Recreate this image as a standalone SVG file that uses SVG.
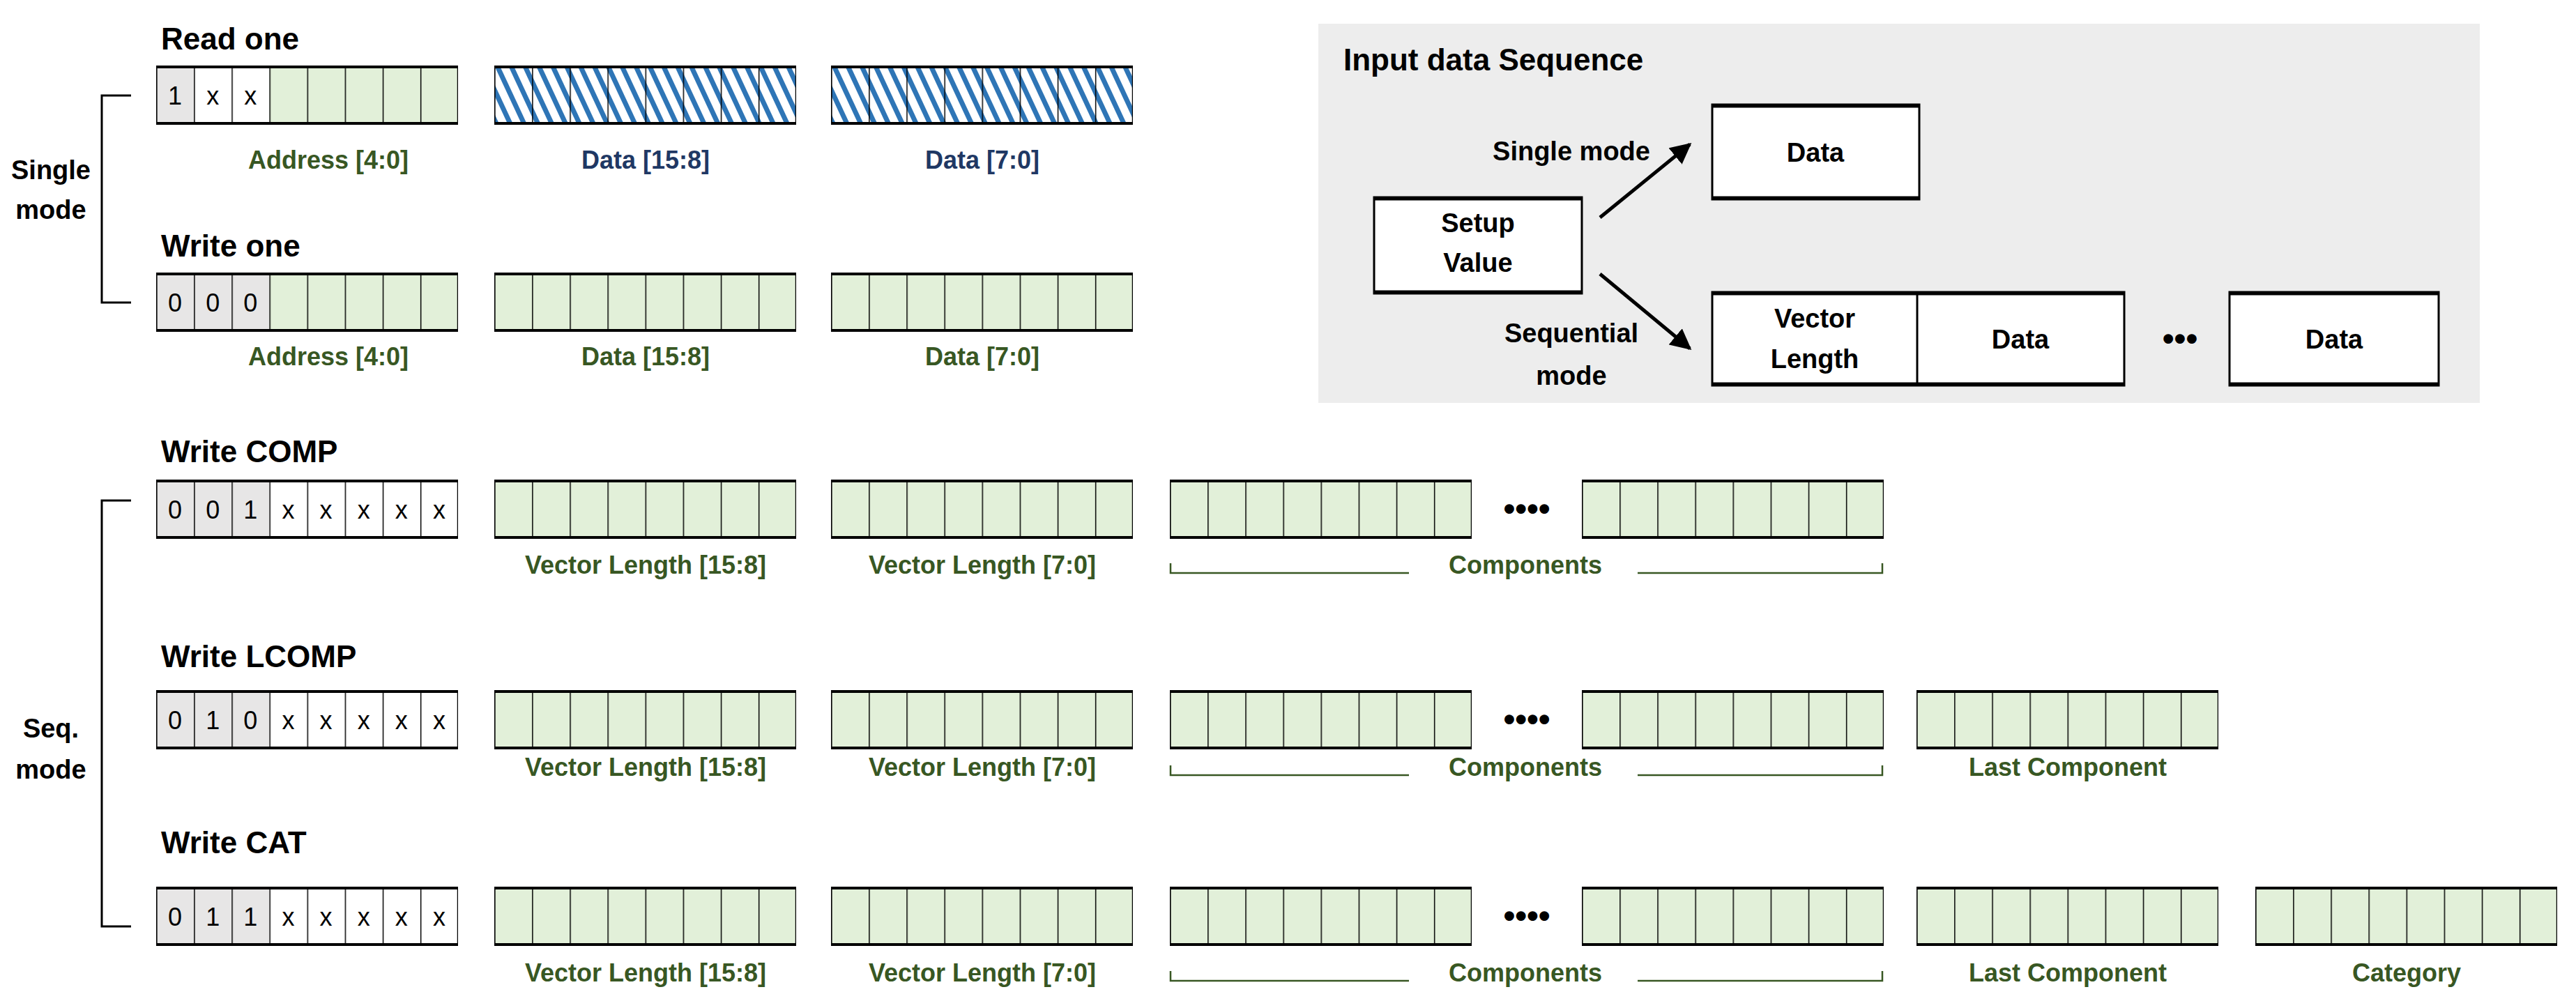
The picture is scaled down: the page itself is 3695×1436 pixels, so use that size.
<svg xmlns="http://www.w3.org/2000/svg" xmlns:xlink="http://www.w3.org/1999/xlink" width="3695" height="1436" viewBox="0 0 3695 1436">
<style>
text{font-family:"Liberation Sans",Arial,sans-serif}
.t{font-size:44px;font-weight:bold;fill:#000}
.g{font-size:36px;font-weight:bold;fill:#385723;text-anchor:middle}
.b{font-size:36px;font-weight:bold;fill:#1f3864;text-anchor:middle}
.c{font-size:36px;fill:#000;text-anchor:middle}
.k{font-size:38px;font-weight:bold;fill:#000;text-anchor:middle}
.d{font-size:48px;font-weight:bold;fill:#000;text-anchor:middle}
.ol{fill:none;stroke:#000;stroke-width:2.5}
.th{stroke:#000;stroke-width:5}
.br{fill:none;stroke:#000;stroke-width:3}
.gb{fill:none;stroke:#385723;stroke-width:2.5}
.nb{fill:#fff;stroke:#000;stroke-width:3}
</style>
<defs>
<pattern id="div" patternUnits="objectBoundingBox" width="0.125" height="1"><line x1="0" y1="0" x2="0" y2="85" stroke="#000" stroke-width="3"/></pattern>
<pattern id="hatch" patternUnits="userSpaceOnUse" width="18" height="18" patternTransform="rotate(-25)"><rect width="18" height="18" fill="#fff"/><rect width="7" height="18" fill="#2e75b6"/></pattern>
<marker id="ar" viewBox="0 0 10 10" refX="9" refY="5" markerWidth="6" markerHeight="6" orient="auto"><path d="M0,0 L10,5 L0,10 z" fill="#000"/></marker>
<symbol id="frame" viewBox="0 0 433 85" width="433" height="85"><rect width="433" height="85" fill="url(#div)"/><rect x="0" y="0" width="433" height="85" class="ol"/><line x1="0" y1="1.5" x2="433" y2="1.5" class="th"/><line x1="0" y1="83.5" x2="433" y2="83.5" class="th"/></symbol>
<symbol id="gbox" viewBox="0 0 433 85" width="433" height="85"><rect width="433" height="85" fill="#e2f0d9"/><use href="#frame"/></symbol>
<symbol id="hbox" viewBox="0 0 433 85" width="433" height="85"><rect width="433" height="85" fill="url(#hatch)"/><use href="#frame"/></symbol>
<symbol id="seqh" viewBox="0 0 433 85" width="433" height="85"><rect width="162.4" height="85" fill="#e7e6e6"/><rect x="162.4" width="270.6" height="85" fill="#fff"/><use href="#frame"/>
<text class="c" x="189.4" y="56">x</text><text class="c" x="243.6" y="56">x</text><text class="c" x="297.7" y="56">x</text><text class="c" x="351.8" y="56">x</text><text class="c" x="405.9" y="56">x</text></symbol>
</defs>

<g id="single-bracket"><path class="br" d="M188,137 H146 V434 H188"/><text class="k" x="73" y="257">Single</text><text class="k" x="73" y="314">mode</text></g>
<g id="seq-bracket"><path class="br" d="M188,718 H146 V1329 H188"/><text class="k" x="73" y="1058">Seq.</text><text class="k" x="73" y="1117">mode</text></g>

<g id="read-one">
<text class="t" x="231" y="71">Read one</text>
<rect x="224" y="94" width="54.1" height="85" fill="#e7e6e6"/><rect x="278.1" y="94" width="108.3" height="85" fill="#fff"/><rect x="386.4" y="94" width="270.6" height="85" fill="#e2f0d9"/><use href="#frame" x="224" y="94"/>
<text class="c" x="251" y="150">1</text><text class="c" x="305.2" y="150">x</text><text class="c" x="359.3" y="150">x</text>
<use href="#hbox" x="709" y="94"/><use href="#hbox" x="1192" y="94"/>
<text class="g" x="471" y="242">Address [4:0]</text>
<text class="b" x="926" y="242">Data [15:8]</text>
<text class="b" x="1409" y="242">Data [7:0]</text>
</g>

<g id="write-one">
<text class="t" x="231" y="368">Write one</text>
<rect x="224" y="391" width="162.4" height="85" fill="#e7e6e6"/><rect x="386.4" y="391" width="270.6" height="85" fill="#e2f0d9"/><use href="#frame" x="224" y="391"/>
<text class="c" x="251" y="447">0</text><text class="c" x="305.2" y="447">0</text><text class="c" x="359.3" y="447">0</text>
<use href="#gbox" x="709" y="391"/><use href="#gbox" x="1192" y="391"/>
<text class="g" x="471" y="524">Address [4:0]</text>
<text class="g" x="926" y="524">Data [15:8]</text>
<text class="g" x="1409" y="524">Data [7:0]</text>
</g>

<g id="write-comp">
<text class="t" x="231" y="663">Write COMP</text>
<use href="#seqh" x="224" y="688"/>
<text class="c" x="251" y="744">0</text><text class="c" x="305.2" y="744">0</text><text class="c" x="359.3" y="744">1</text>
<use href="#gbox" x="709" y="688"/><use href="#gbox" x="1192" y="688"/><use href="#gbox" x="1678" y="688"/><use href="#gbox" x="2269" y="688"/>
<text class="d" x="2190" y="746">••••</text>
<text class="g" x="926" y="823">Vector Length [15:8]</text>
<text class="g" x="1409" y="823">Vector Length [7:0]</text>
<text class="g" x="2188" y="823">Components</text>
<path class="gb" d="M1679,808 V822 H2021 M2349,822 H2700 V808"/>
</g>

<g id="write-lcomp">
<text class="t" x="231" y="957">Write LCOMP</text>
<use href="#seqh" x="224" y="990"/>
<text class="c" x="251" y="1046">0</text><text class="c" x="305.2" y="1046">1</text><text class="c" x="359.3" y="1046">0</text>
<use href="#gbox" x="709" y="990"/><use href="#gbox" x="1192" y="990"/><use href="#gbox" x="1678" y="990"/><use href="#gbox" x="2269" y="990"/><use href="#gbox" x="2749" y="990"/>
<text class="d" x="2190" y="1048">••••</text>
<text class="g" x="926" y="1113">Vector Length [15:8]</text>
<text class="g" x="1409" y="1113">Vector Length [7:0]</text>
<text class="g" x="2188" y="1113">Components</text>
<path class="gb" d="M1679,1098 V1112 H2021 M2349,1112 H2700 V1098"/>
<text class="g" x="2966" y="1113">Last Component</text>
</g>

<g id="write-cat">
<text class="t" x="231" y="1224">Write CAT</text>
<use href="#seqh" x="224" y="1272"/>
<text class="c" x="251" y="1328">0</text><text class="c" x="305.2" y="1328">1</text><text class="c" x="359.3" y="1328">1</text>
<use href="#gbox" x="709" y="1272"/><use href="#gbox" x="1192" y="1272"/><use href="#gbox" x="1678" y="1272"/><use href="#gbox" x="2269" y="1272"/><use href="#gbox" x="2749" y="1272"/><use href="#gbox" x="3235" y="1272"/>
<text class="d" x="2190" y="1330">••••</text>
<text class="g" x="926" y="1408">Vector Length [15:8]</text>
<text class="g" x="1409" y="1408">Vector Length [7:0]</text>
<text class="g" x="2188" y="1408">Components</text>
<path class="gb" d="M1679,1393 V1407 H2021 M2349,1407 H2700 V1393"/>
<text class="g" x="2966" y="1408">Last Component</text>
<text class="g" x="3452" y="1408">Category</text>
</g>

<g id="input-seq">
<rect x="1891" y="34" width="1666" height="544" fill="#ededed"/>
<text class="t" x="1927" y="101">Input data Sequence</text>
</g>
<g id="setup"><rect class="nb" x="1971" y="283" width="298" height="138"/><line class="th" x1="1971" y1="285" x2="2269" y2="285"/><line class="th" x1="1971" y1="419" x2="2269" y2="419"/><text class="k" x="2120" y="333">Setup</text><text class="k" x="2120" y="390">Value</text></g>
<g id="data-single"><rect class="nb" x="2456" y="150" width="297" height="136"/><line class="th" x1="2456" y1="152" x2="2753" y2="152"/><line class="th" x1="2456" y1="284" x2="2753" y2="284"/><text class="k" x="2604" y="232">Data</text></g>
<g id="seq-data"><rect class="nb" x="2456" y="419" width="591" height="134"/><line class="br" x1="2750" y1="419" x2="2750" y2="553"/><line class="th" x1="2456" y1="421" x2="3047" y2="421"/><line class="th" x1="2456" y1="551" x2="3047" y2="551"/>
<text class="k" x="2603" y="470">Vector</text><text class="k" x="2603" y="528">Length</text><text class="k" x="2898" y="500">Data</text>
<text class="d" x="3127" y="502">•••</text></g>
<g id="data-last"><rect class="nb" x="3198" y="419" width="300" height="134"/><line class="th" x1="3198" y1="421" x2="3498" y2="421"/><line class="th" x1="3198" y1="551" x2="3498" y2="551"/><text class="k" x="3348" y="500">Data</text></g>
<g id="connectors">
<line x1="2295" y1="312" x2="2424" y2="207" stroke="#000" stroke-width="5" marker-end="url(#ar)"/>
<line x1="2295" y1="393" x2="2424" y2="500" stroke="#000" stroke-width="5" marker-end="url(#ar)"/>
<text class="k" x="2254" y="230">Single mode</text>
<text class="k" x="2254" y="491">Sequential</text>
<text class="k" x="2254" y="552">mode</text>
</g>
</svg>
